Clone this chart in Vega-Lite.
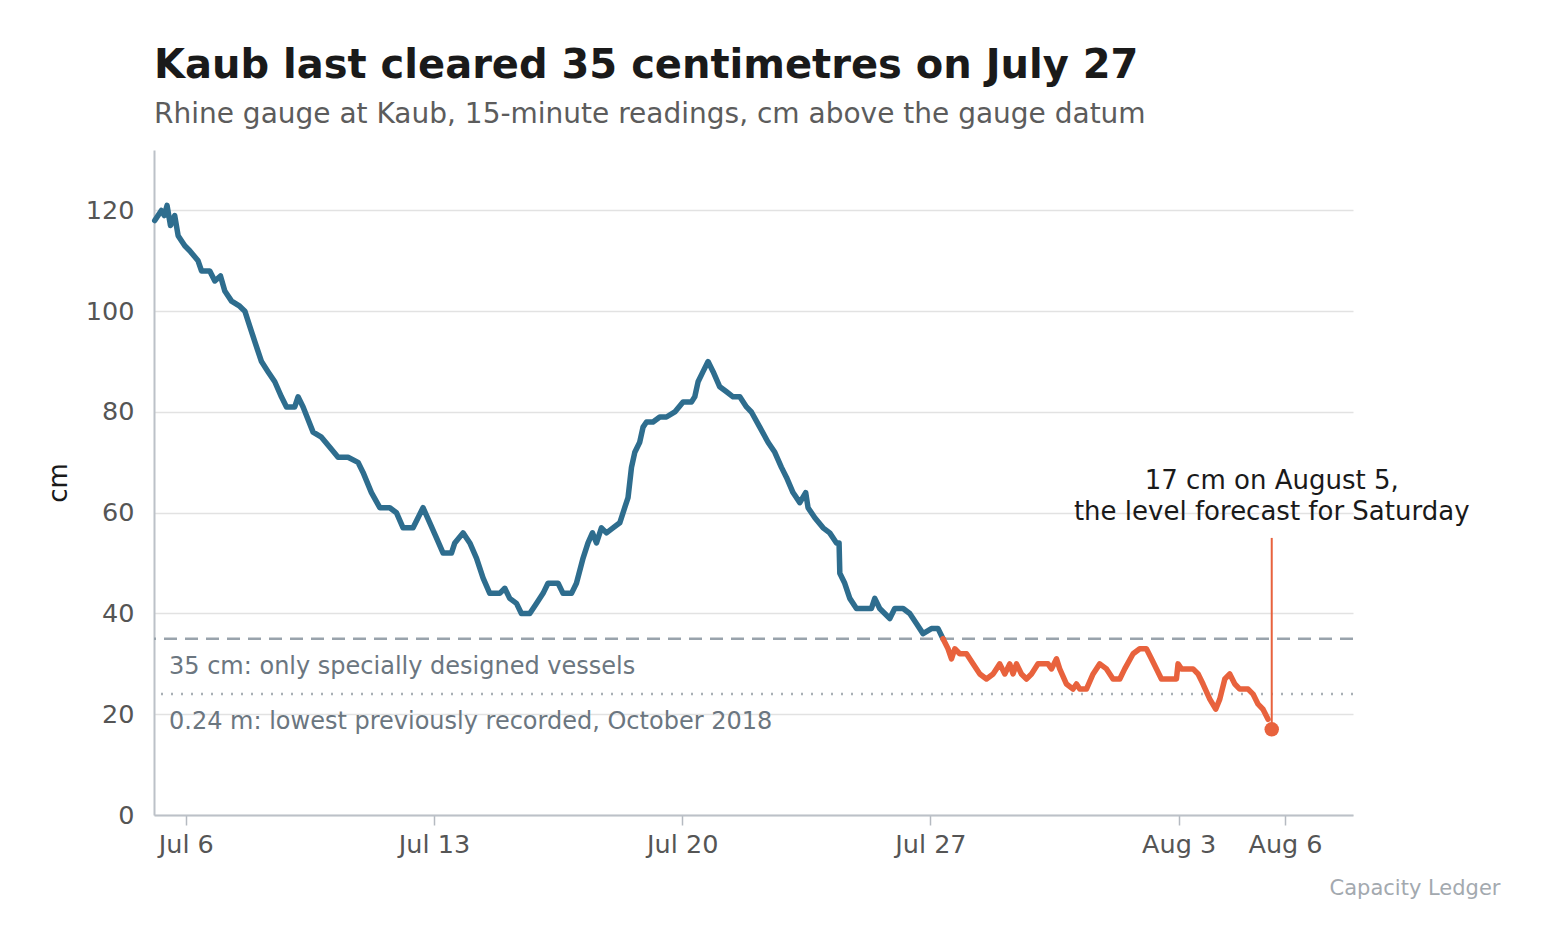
{
  "$schema": "https://vega.github.io/schema/vega-lite/v6.json",
  "width": 1199,
  "height": 665,
  "autosize": "none",
  "padding": {"left": 154, "top": 150, "right": 192, "bottom": 130},
  "background": "white",
  "config": {
    "font": "DejaVu Sans",
    "view": {"stroke": null},
    "axis": {"labelFont": "DejaVu Sans", "titleFont": "DejaVu Sans"}
  },
  "title": {
    "text": "Kaub last cleared 35 centimetres on July 27",
    "subtitle": "Rhine gauge at Kaub, 15-minute readings, cm above the gauge datum",
    "anchor": "start",
    "frame": "group",
    "font": "DejaVu Sans",
    "fontSize": 40,
    "fontWeight": "bold",
    "color": "#1a1a1a",
    "subtitleFont": "DejaVu Sans",
    "subtitleFontSize": 28,
    "subtitleColor": "#5c5c5c",
    "subtitlePadding": 15,
    "offset": 21
  },
  "datasets": {
    "levels": [
      {"t": "2022-07-05T03:00", "cm": 118, "part": "observed"},
      {"t": "2022-07-05T07:30", "cm": 120, "part": "observed"},
      {"t": "2022-07-05T09:30", "cm": 119, "part": "observed"},
      {"t": "2022-07-05T11:20", "cm": 121, "part": "observed"},
      {"t": "2022-07-05T13:40", "cm": 117, "part": "observed"},
      {"t": "2022-07-05T16:30", "cm": 119, "part": "observed"},
      {"t": "2022-07-05T18:50", "cm": 115, "part": "observed"},
      {"t": "2022-07-05T23:20", "cm": 113, "part": "observed"},
      {"t": "2022-07-06T02:40", "cm": 112, "part": "observed"},
      {"t": "2022-07-06T05:30", "cm": 111, "part": "observed"},
      {"t": "2022-07-06T08:20", "cm": 110, "part": "observed"},
      {"t": "2022-07-06T10:40", "cm": 108, "part": "observed"},
      {"t": "2022-07-06T16:15", "cm": 108, "part": "observed"},
      {"t": "2022-07-06T19:40", "cm": 106, "part": "observed"},
      {"t": "2022-07-06T23:30", "cm": 107, "part": "observed"},
      {"t": "2022-07-07T02:25", "cm": 104, "part": "observed"},
      {"t": "2022-07-07T07:00", "cm": 102, "part": "observed"},
      {"t": "2022-07-07T12:30", "cm": 101, "part": "observed"},
      {"t": "2022-07-07T16:00", "cm": 100, "part": "observed"},
      {"t": "2022-07-07T19:20", "cm": 97, "part": "observed"},
      {"t": "2022-07-07T22:40", "cm": 94, "part": "observed"},
      {"t": "2022-07-08T03:15", "cm": 90, "part": "observed"},
      {"t": "2022-07-08T07:40", "cm": 88, "part": "observed"},
      {"t": "2022-07-08T12:15", "cm": 86, "part": "observed"},
      {"t": "2022-07-08T16:45", "cm": 83, "part": "observed"},
      {"t": "2022-07-08T20:10", "cm": 81, "part": "observed"},
      {"t": "2022-07-09T01:45", "cm": 81, "part": "observed"},
      {"t": "2022-07-09T04:00", "cm": 83, "part": "observed"},
      {"t": "2022-07-09T07:25", "cm": 81, "part": "observed"},
      {"t": "2022-07-09T14:10", "cm": 76, "part": "observed"},
      {"t": "2022-07-09T19:50", "cm": 75, "part": "observed"},
      {"t": "2022-07-10T01:30", "cm": 73, "part": "observed"},
      {"t": "2022-07-10T07:05", "cm": 71, "part": "observed"},
      {"t": "2022-07-10T13:50", "cm": 71, "part": "observed"},
      {"t": "2022-07-10T20:35", "cm": 70, "part": "observed"},
      {"t": "2022-07-11T00:00", "cm": 68, "part": "observed"},
      {"t": "2022-07-11T05:40", "cm": 64, "part": "observed"},
      {"t": "2022-07-11T11:20", "cm": 61, "part": "observed"},
      {"t": "2022-07-11T18:05", "cm": 61, "part": "observed"},
      {"t": "2022-07-11T22:35", "cm": 60, "part": "observed"},
      {"t": "2022-07-12T03:05", "cm": 57, "part": "observed"},
      {"t": "2022-07-12T09:50", "cm": 57, "part": "observed"},
      {"t": "2022-07-12T16:35", "cm": 61, "part": "observed"},
      {"t": "2022-07-12T21:10", "cm": 58, "part": "observed"},
      {"t": "2022-07-13T01:40", "cm": 55, "part": "observed"},
      {"t": "2022-07-13T06:10", "cm": 52, "part": "observed"},
      {"t": "2022-07-13T11:50", "cm": 52, "part": "observed"},
      {"t": "2022-07-13T14:05", "cm": 54, "part": "observed"},
      {"t": "2022-07-13T19:40", "cm": 56, "part": "observed"},
      {"t": "2022-07-14T00:15", "cm": 54, "part": "observed"},
      {"t": "2022-07-14T04:45", "cm": 51, "part": "observed"},
      {"t": "2022-07-14T09:15", "cm": 47, "part": "observed"},
      {"t": "2022-07-14T13:45", "cm": 44, "part": "observed"},
      {"t": "2022-07-14T20:30", "cm": 44, "part": "observed"},
      {"t": "2022-07-14T23:55", "cm": 45, "part": "observed"},
      {"t": "2022-07-15T03:15", "cm": 43, "part": "observed"},
      {"t": "2022-07-15T07:50", "cm": 42, "part": "observed"},
      {"t": "2022-07-15T11:10", "cm": 40, "part": "observed"},
      {"t": "2022-07-15T16:50", "cm": 40, "part": "observed"},
      {"t": "2022-07-15T21:20", "cm": 42, "part": "observed"},
      {"t": "2022-07-16T01:50", "cm": 44, "part": "observed"},
      {"t": "2022-07-16T05:10", "cm": 46, "part": "observed"},
      {"t": "2022-07-16T12:00", "cm": 46, "part": "observed"},
      {"t": "2022-07-16T15:20", "cm": 44, "part": "observed"},
      {"t": "2022-07-16T21:05", "cm": 44, "part": "observed"},
      {"t": "2022-07-17T00:25", "cm": 46, "part": "observed"},
      {"t": "2022-07-17T04:55", "cm": 51, "part": "observed"},
      {"t": "2022-07-17T08:15", "cm": 54, "part": "observed"},
      {"t": "2022-07-17T11:15", "cm": 56, "part": "observed"},
      {"t": "2022-07-17T14:00", "cm": 54, "part": "observed"},
      {"t": "2022-07-17T17:20", "cm": 57, "part": "observed"},
      {"t": "2022-07-17T20:45", "cm": 56, "part": "observed"},
      {"t": "2022-07-18T01:10", "cm": 57, "part": "observed"},
      {"t": "2022-07-18T05:45", "cm": 58, "part": "observed"},
      {"t": "2022-07-18T09:05", "cm": 61, "part": "observed"},
      {"t": "2022-07-18T11:20", "cm": 63, "part": "observed"},
      {"t": "2022-07-18T13:40", "cm": 69, "part": "observed"},
      {"t": "2022-07-18T15:55", "cm": 72, "part": "observed"},
      {"t": "2022-07-18T19:15", "cm": 74, "part": "observed"},
      {"t": "2022-07-18T21:30", "cm": 77, "part": "observed"},
      {"t": "2022-07-18T23:50", "cm": 78, "part": "observed"},
      {"t": "2022-07-19T04:15", "cm": 78, "part": "observed"},
      {"t": "2022-07-19T08:50", "cm": 79, "part": "observed"},
      {"t": "2022-07-19T13:20", "cm": 79, "part": "observed"},
      {"t": "2022-07-19T19:00", "cm": 80, "part": "observed"},
      {"t": "2022-07-20T00:35", "cm": 82, "part": "observed"},
      {"t": "2022-07-20T06:15", "cm": 82, "part": "observed"},
      {"t": "2022-07-20T08:30", "cm": 83, "part": "observed"},
      {"t": "2022-07-20T10:45", "cm": 86, "part": "observed"},
      {"t": "2022-07-20T14:05", "cm": 88, "part": "observed"},
      {"t": "2022-07-20T17:30", "cm": 90, "part": "observed"},
      {"t": "2022-07-20T20:55", "cm": 88, "part": "observed"},
      {"t": "2022-07-21T01:25", "cm": 85, "part": "observed"},
      {"t": "2022-07-21T06:00", "cm": 84, "part": "observed"},
      {"t": "2022-07-21T10:25", "cm": 83, "part": "observed"},
      {"t": "2022-07-21T15:00", "cm": 83, "part": "observed"},
      {"t": "2022-07-21T19:30", "cm": 81, "part": "observed"},
      {"t": "2022-07-21T22:50", "cm": 80, "part": "observed"},
      {"t": "2022-07-22T04:30", "cm": 77, "part": "observed"},
      {"t": "2022-07-22T10:05", "cm": 74, "part": "observed"},
      {"t": "2022-07-22T14:40", "cm": 72, "part": "observed"},
      {"t": "2022-07-22T19:10", "cm": 69, "part": "observed"},
      {"t": "2022-07-22T22:35", "cm": 67, "part": "observed"},
      {"t": "2022-07-23T03:00", "cm": 64, "part": "observed"},
      {"t": "2022-07-23T07:35", "cm": 62, "part": "observed"},
      {"t": "2022-07-23T11:35", "cm": 64, "part": "observed"},
      {"t": "2022-07-23T13:10", "cm": 61, "part": "observed"},
      {"t": "2022-07-23T17:45", "cm": 59, "part": "observed"},
      {"t": "2022-07-23T23:20", "cm": 57, "part": "observed"},
      {"t": "2022-07-24T03:50", "cm": 56, "part": "observed"},
      {"t": "2022-07-24T08:25", "cm": 54, "part": "observed"},
      {"t": "2022-07-24T10:10", "cm": 54, "part": "observed"},
      {"t": "2022-07-24T10:40", "cm": 48, "part": "observed"},
      {"t": "2022-07-24T14:00", "cm": 46, "part": "observed"},
      {"t": "2022-07-24T17:25", "cm": 43, "part": "observed"},
      {"t": "2022-07-24T21:55", "cm": 41, "part": "observed"},
      {"t": "2022-07-25T08:05", "cm": 41, "part": "observed"},
      {"t": "2022-07-25T10:20", "cm": 43, "part": "observed"},
      {"t": "2022-07-25T13:40", "cm": 41, "part": "observed"},
      {"t": "2022-07-25T20:30", "cm": 39, "part": "observed"},
      {"t": "2022-07-25T23:50", "cm": 41, "part": "observed"},
      {"t": "2022-07-26T05:30", "cm": 41, "part": "observed"},
      {"t": "2022-07-26T10:00", "cm": 40, "part": "observed"},
      {"t": "2022-07-26T14:30", "cm": 38, "part": "observed"},
      {"t": "2022-07-26T19:00", "cm": 36, "part": "observed"},
      {"t": "2022-07-27T00:40", "cm": 37, "part": "observed"},
      {"t": "2022-07-27T05:10", "cm": 37, "part": "observed"},
      {"t": "2022-07-27T08:30", "cm": 35, "part": "observed"},
      {"t": "2022-07-27T08:30", "cm": 35, "part": "below"},
      {"t": "2022-07-27T11:55", "cm": 33, "part": "below"},
      {"t": "2022-07-27T14:15", "cm": 31, "part": "below"},
      {"t": "2022-07-27T16:30", "cm": 33, "part": "below"},
      {"t": "2022-07-27T19:50", "cm": 32, "part": "below"},
      {"t": "2022-07-28T00:25", "cm": 32, "part": "below"},
      {"t": "2022-07-28T04:50", "cm": 30, "part": "below"},
      {"t": "2022-07-28T09:25", "cm": 28, "part": "below"},
      {"t": "2022-07-28T13:55", "cm": 27, "part": "below"},
      {"t": "2022-07-28T18:25", "cm": 28, "part": "below"},
      {"t": "2022-07-28T22:55", "cm": 30, "part": "below"},
      {"t": "2022-07-29T02:20", "cm": 28, "part": "below"},
      {"t": "2022-07-29T05:40", "cm": 30, "part": "below"},
      {"t": "2022-07-29T07:55", "cm": 28, "part": "below"},
      {"t": "2022-07-29T10:15", "cm": 30, "part": "below"},
      {"t": "2022-07-29T13:35", "cm": 28, "part": "below"},
      {"t": "2022-07-29T17:00", "cm": 27, "part": "below"},
      {"t": "2022-07-29T20:25", "cm": 28, "part": "below"},
      {"t": "2022-07-30T00:50", "cm": 30, "part": "below"},
      {"t": "2022-07-30T07:35", "cm": 30, "part": "below"},
      {"t": "2022-07-30T09:55", "cm": 29, "part": "below"},
      {"t": "2022-07-30T13:20", "cm": 31, "part": "below"},
      {"t": "2022-07-30T15:30", "cm": 29, "part": "below"},
      {"t": "2022-07-30T20:05", "cm": 26, "part": "below"},
      {"t": "2022-07-31T00:30", "cm": 25, "part": "below"},
      {"t": "2022-07-31T02:50", "cm": 26, "part": "below"},
      {"t": "2022-07-31T05:05", "cm": 25, "part": "below"},
      {"t": "2022-07-31T09:35", "cm": 25, "part": "below"},
      {"t": "2022-07-31T14:05", "cm": 28, "part": "below"},
      {"t": "2022-07-31T18:35", "cm": 30, "part": "below"},
      {"t": "2022-07-31T23:10", "cm": 29, "part": "below"},
      {"t": "2022-08-01T03:35", "cm": 27, "part": "below"},
      {"t": "2022-08-01T08:10", "cm": 27, "part": "below"},
      {"t": "2022-08-01T11:30", "cm": 29, "part": "below"},
      {"t": "2022-08-01T17:10", "cm": 32, "part": "below"},
      {"t": "2022-08-01T21:40", "cm": 33, "part": "below"},
      {"t": "2022-08-02T02:10", "cm": 33, "part": "below"},
      {"t": "2022-08-02T05:35", "cm": 31, "part": "below"},
      {"t": "2022-08-02T09:00", "cm": 29, "part": "below"},
      {"t": "2022-08-02T12:20", "cm": 27, "part": "below"},
      {"t": "2022-08-02T18:00", "cm": 27, "part": "below"},
      {"t": "2022-08-02T22:30", "cm": 27, "part": "below"},
      {"t": "2022-08-02T23:35", "cm": 30, "part": "below"},
      {"t": "2022-08-03T01:55", "cm": 29, "part": "below"},
      {"t": "2022-08-03T05:15", "cm": 29, "part": "below"},
      {"t": "2022-08-03T09:45", "cm": 29, "part": "below"},
      {"t": "2022-08-03T13:10", "cm": 28, "part": "below"},
      {"t": "2022-08-03T16:30", "cm": 26, "part": "below"},
      {"t": "2022-08-03T21:05", "cm": 23, "part": "below"},
      {"t": "2022-08-04T01:05", "cm": 21, "part": "below"},
      {"t": "2022-08-04T03:50", "cm": 23, "part": "below"},
      {"t": "2022-08-04T07:15", "cm": 27, "part": "below"},
      {"t": "2022-08-04T10:35", "cm": 28, "part": "below"},
      {"t": "2022-08-04T14:00", "cm": 26, "part": "below"},
      {"t": "2022-08-04T17:20", "cm": 25, "part": "below"},
      {"t": "2022-08-04T23:00", "cm": 25, "part": "below"},
      {"t": "2022-08-05T02:20", "cm": 24, "part": "below"},
      {"t": "2022-08-05T05:45", "cm": 22, "part": "below"},
      {"t": "2022-08-05T09:05", "cm": 21, "part": "below"},
      {"t": "2022-08-05T12:30", "cm": 19, "part": "below"}
    ],
    "forecast": [
      {"t": "2022-08-05T15:00", "cm": 17, "top": 55, "label": ["17 cm on August 5,", "the level forecast for Saturday"]}
    ],
    "thresholds": [
      {"cm": 35, "kind": "dashed", "t": "2022-07-05T02:30", "label": "35 cm: only specially designed vessels"},
      {"cm": 24, "kind": "dotted", "t": "2022-07-05T02:30", "label": "0.24 m: lowest previously recorded, October 2018"}
    ]
  },
  "encoding": {
    "x": {
      "field": "t",
      "type": "temporal",
      "scale": {
        "domain": [
          {"year": 2022, "month": 7, "date": 5, "hours": 2, "minutes": 30},
          {"year": 2022, "month": 8, "date": 7, "hours": 22}
        ]
      },
      "axis": {
        "values": [
          {"year": 2022, "month": 7, "date": 6},
          {"year": 2022, "month": 7, "date": 13},
          {"year": 2022, "month": 7, "date": 20},
          {"year": 2022, "month": 7, "date": 27},
          {"year": 2022, "month": 8, "date": 3},
          {"year": 2022, "month": 8, "date": 6}
        ],
        "format": "%b %-d",
        "grid": false,
        "domainColor": "#bcc1c8",
        "domainWidth": 2,
        "tickColor": "#b5bac1",
        "tickWidth": 1.5,
        "tickSize": 10,
        "labelFontSize": 25.5,
        "labelColor": "#555555",
        "labelPadding": 7,
        "labelFlush": false,
        "labelOverlap": false,
        "title": "Capacity Ledger",
        "titleFontSize": 21,
        "titleFontWeight": "normal",
        "titleColor": "#a3a9af",
        "titleAlign": "right",
        "titleAnchor": "end",
        "titleX": 1346,
        "titleY": 73,
        "titleBaseline": "middle"
      }
    },
    "y": {
      "field": "cm",
      "type": "quantitative",
      "scale": {"domain": [0, 132], "nice": false},
      "axis": {
        "values": [0, 20, 40, 60, 80, 100, 120],
        "title": "cm",
        "titleFontSize": 26,
        "titleFontWeight": "normal",
        "titleColor": "#1a1a1a",
        "titlePadding": 14,
        "ticks": false,
        "labelFontSize": 25.5,
        "labelColor": "#555555",
        "labelPadding": 20,
        "domainColor": "#bcc1c8",
        "domainWidth": 2,
        "gridColor": "#e2e2e2",
        "gridWidth": 1.5
      }
    }
  },
  "layer": [
    {
      "data": {"name": "thresholds"},
      "transform": [{"filter": "datum.kind === 'dashed'"}],
      "mark": {"type": "rule", "color": "#99a3ac", "strokeWidth": 2.5, "strokeDash": [13, 8]},
      "encoding": {"x": null}
    },
    {
      "data": {"name": "thresholds"},
      "transform": [{"filter": "datum.kind === 'dotted'"}],
      "mark": {"type": "rule", "color": "#a8afb5", "strokeWidth": 2.5, "strokeDash": [2, 8]},
      "encoding": {"x": null}
    },
    {
      "data": {"name": "thresholds"},
      "mark": {"type": "text", "align": "left", "baseline": "middle", "dx": 15, "dy": 28, "fontSize": 24, "color": "#6b7680"},
      "encoding": {
        "text": {"field": "label", "type": "nominal"}
      }
    },
    {
      "data": {"name": "levels"},
      "mark": {"type": "line", "strokeWidth": 5.5, "strokeJoin": "round", "strokeCap": "round"},
      "encoding": {
        "color": {
          "field": "part",
          "type": "nominal",
          "scale": {"domain": ["observed", "below"], "range": ["#2e6d8e", "#e8623d"]},
          "legend": null
        }
      }
    },
    {
      "data": {"name": "forecast"},
      "mark": {"type": "rule", "color": "#e8623d", "strokeWidth": 2},
      "encoding": {"y2": {"field": "top"}}
    },
    {
      "data": {"name": "forecast"},
      "mark": {"type": "point", "filled": true, "shape": "circle", "size": 210, "color": "#e8623d", "opacity": 1},
      "encoding": {}
    },
    {
      "data": {"name": "forecast"},
      "mark": {"type": "text", "align": "center", "baseline": "bottom", "dy": -44, "fontSize": 26, "color": "#1a1a1a", "lineHeight": 31},
      "encoding": {
        "y": {"field": "top", "type": "quantitative"},
        "text": {"field": "label"}
      }
    }
  ]
}
